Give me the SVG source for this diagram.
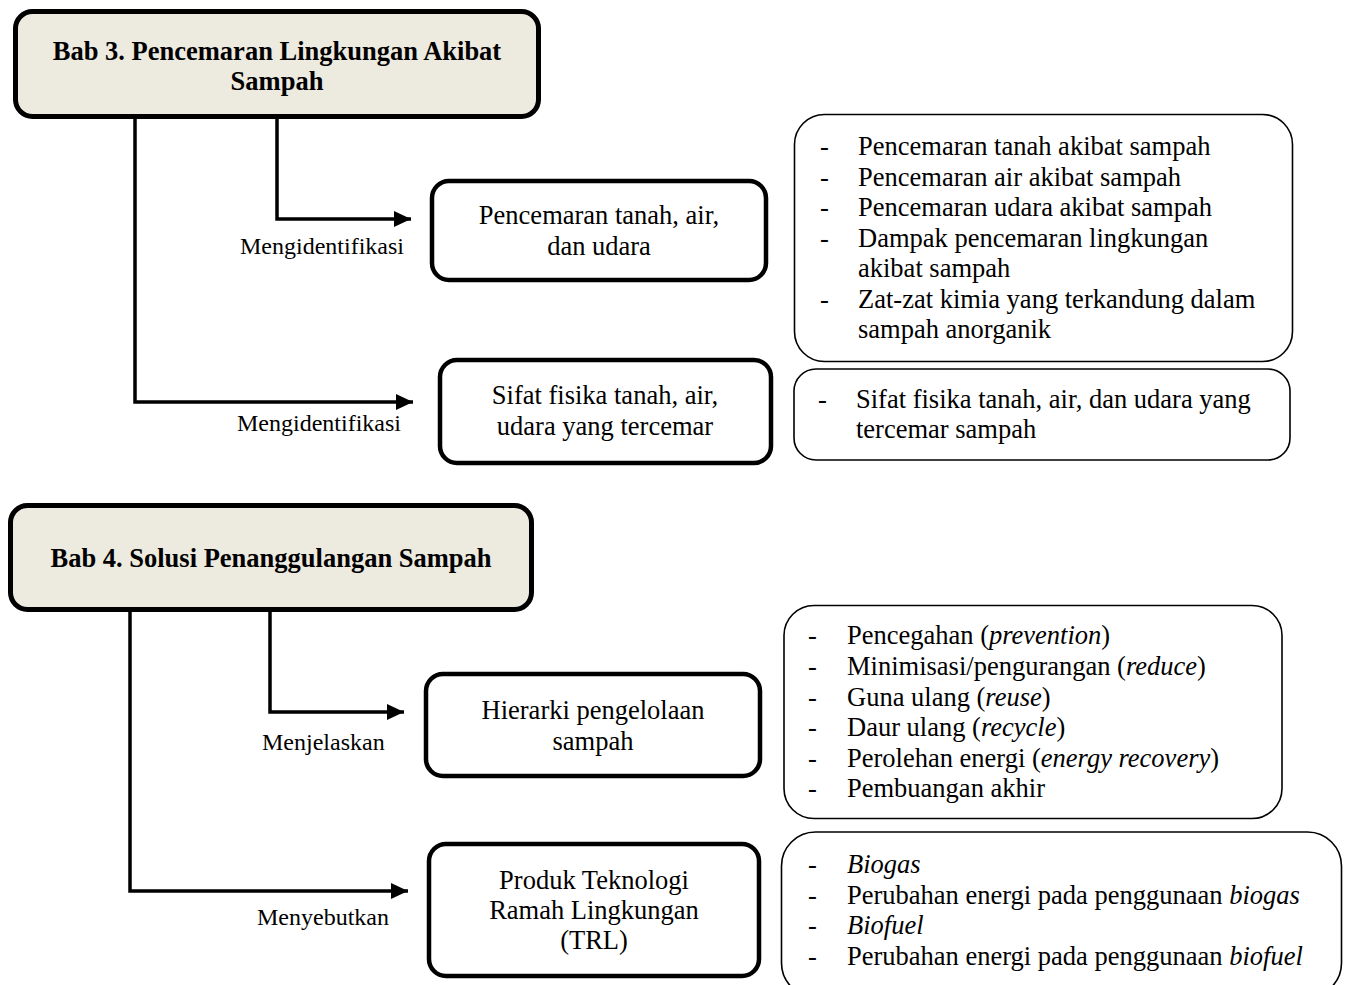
<svg xmlns="http://www.w3.org/2000/svg" width="1350" height="985" viewBox="0 0 1350 985">
  <style>
    text { font-family: "Liberation Serif", "Times New Roman", serif; fill: #000; }
    .head { fill: #EDEADF; stroke: #000; stroke-width: 5; }
    .node { fill: #fff; stroke: #000; stroke-width: 4.5; }
    .list { fill: #fff; stroke: #000; stroke-width: 1.6; }
    .ht { font-size: 26.5px; font-weight: bold; text-anchor: middle; }
    .nt { font-size: 26.5px; text-anchor: middle; }
    .lt { font-size: 26.5px; }
    .lb { font-size: 24px; }
    .wire { fill: none; stroke: #000; stroke-width: 3.5; marker-end: url(#arrow); }
    .i { font-style: italic; }
  </style>
  <defs>
    <marker id="arrow" markerUnits="userSpaceOnUse" markerWidth="17" markerHeight="16" refX="17" refY="8" orient="auto">
      <path d="M0,0 L17,8 L0,16 z" fill="#000"/>
    </marker>
  </defs>

  <rect width="1350" height="985" fill="#fff"/>

  <!-- connectors -->
  <g id="connectors">
    <path class="wire" d="M277,118 V219 H411"/>
    <path class="wire" d="M135,118 V402 H413"/>
    <path class="wire" d="M270,610 V712 H404"/>
    <path class="wire" d="M130,610 V891 H408"/>
    <text class="lb" x="240" y="254">Mengidentifikasi</text>
    <text class="lb" x="237" y="431">Mengidentifikasi</text>
    <text class="lb" x="262" y="750">Menjelaskan</text>
    <text class="lb" x="257" y="925">Menyebutkan</text>
  </g>

  <!-- chapter 3 -->
  <g id="bab3">
    <rect class="head" x="15.5" y="11.5" width="523" height="105" rx="17"/>
    <text class="ht" x="277" y="60">Bab 3. Pencemaran Lingkungan Akibat</text>
    <text class="ht" x="277" y="90">Sampah</text>
  </g>

  <g id="pencemaran">
    <rect class="node" x="432" y="181" width="334" height="99" rx="17"/>
    <text class="nt" x="599" y="224">Pencemaran tanah, air,</text>
    <text class="nt" x="599" y="255">dan udara</text>
  </g>

  <g id="sifat-fisika">
    <rect class="node" x="440" y="360" width="331" height="103" rx="17"/>
    <text class="nt" x="605" y="404">Sifat fisika tanah, air,</text>
    <text class="nt" x="605" y="435">udara yang tercemar</text>
  </g>

  <g id="list-pencemaran">
    <rect class="list" x="794.5" y="114.5" width="498" height="247" rx="30"/>
    <text class="lt" x="820" y="155">-</text>
    <text class="lt" x="858" y="155">Pencemaran tanah akibat sampah</text>
    <text class="lt" x="820" y="185.5">-</text>
    <text class="lt" x="858" y="185.5">Pencemaran air akibat sampah</text>
    <text class="lt" x="820" y="216">-</text>
    <text class="lt" x="858" y="216">Pencemaran udara akibat sampah</text>
    <text class="lt" x="820" y="246.5">-</text>
    <text class="lt" x="858" y="246.5">Dampak pencemaran lingkungan</text>
    <text class="lt" x="858" y="277">akibat sampah</text>
    <text class="lt" x="820" y="307.5">-</text>
    <text class="lt" x="858" y="307.5">Zat-zat kimia yang terkandung dalam</text>
    <text class="lt" x="858" y="338">sampah anorganik</text>
  </g>

  <g id="list-sifat">
    <rect class="list" x="794" y="369" width="496" height="91" rx="22"/>
    <text class="lt" x="818" y="408">-</text>
    <text class="lt" x="856" y="408">Sifat fisika tanah, air, dan udara yang</text>
    <text class="lt" x="856" y="438">tercemar sampah</text>
  </g>

  <!-- chapter 4 -->
  <g id="bab4">
    <rect class="head" x="10.5" y="505.5" width="521" height="104" rx="17"/>
    <text class="ht" x="271" y="567">Bab 4. Solusi Penanggulangan Sampah</text>
  </g>

  <g id="hierarki">
    <rect class="node" x="426" y="674" width="334" height="102" rx="17"/>
    <text class="nt" x="593" y="719">Hierarki pengelolaan</text>
    <text class="nt" x="593" y="750">sampah</text>
  </g>

  <g id="trl">
    <rect class="node" x="429" y="844" width="330" height="132" rx="17"/>
    <text class="nt" x="594" y="889">Produk Teknologi</text>
    <text class="nt" x="594" y="919">Ramah Lingkungan</text>
    <text class="nt" x="594" y="949">(TRL)</text>
  </g>

  <g id="list-hierarki">
    <rect class="list" x="784" y="605.5" width="498" height="213" rx="30"/>
    <text class="lt" x="808" y="644">-</text>
    <text class="lt" x="847" y="644">Pencegahan (<tspan class="i">prevention</tspan>)</text>
    <text class="lt" x="808" y="675">-</text>
    <text class="lt" x="847" y="675">Minimisasi/pengurangan (<tspan class="i">reduce</tspan>)</text>
    <text class="lt" x="808" y="705.5">-</text>
    <text class="lt" x="847" y="705.5">Guna ulang (<tspan class="i">reuse</tspan>)</text>
    <text class="lt" x="808" y="736">-</text>
    <text class="lt" x="847" y="736">Daur ulang (<tspan class="i">recycle</tspan>)</text>
    <text class="lt" x="808" y="766.5">-</text>
    <text class="lt" x="847" y="766.5">Perolehan energi (<tspan class="i">energy recovery</tspan>)</text>
    <text class="lt" x="808" y="797">-</text>
    <text class="lt" x="847" y="797">Pembuangan akhir</text>
  </g>

  <g id="list-trl">
    <rect class="list" x="781.5" y="832" width="560" height="165" rx="34"/>
    <text class="lt" x="808" y="873">-</text>
    <text class="lt i" x="847" y="873">Biogas</text>
    <text class="lt" x="808" y="904">-</text>
    <text class="lt" x="847" y="904">Perubahan energi pada penggunaan <tspan class="i">biogas</tspan></text>
    <text class="lt" x="808" y="934">-</text>
    <text class="lt i" x="847" y="934">Biofuel</text>
    <text class="lt" x="808" y="965">-</text>
    <text class="lt" x="847" y="965">Perubahan energi pada penggunaan <tspan class="i">biofuel</tspan></text>
  </g>
</svg>
